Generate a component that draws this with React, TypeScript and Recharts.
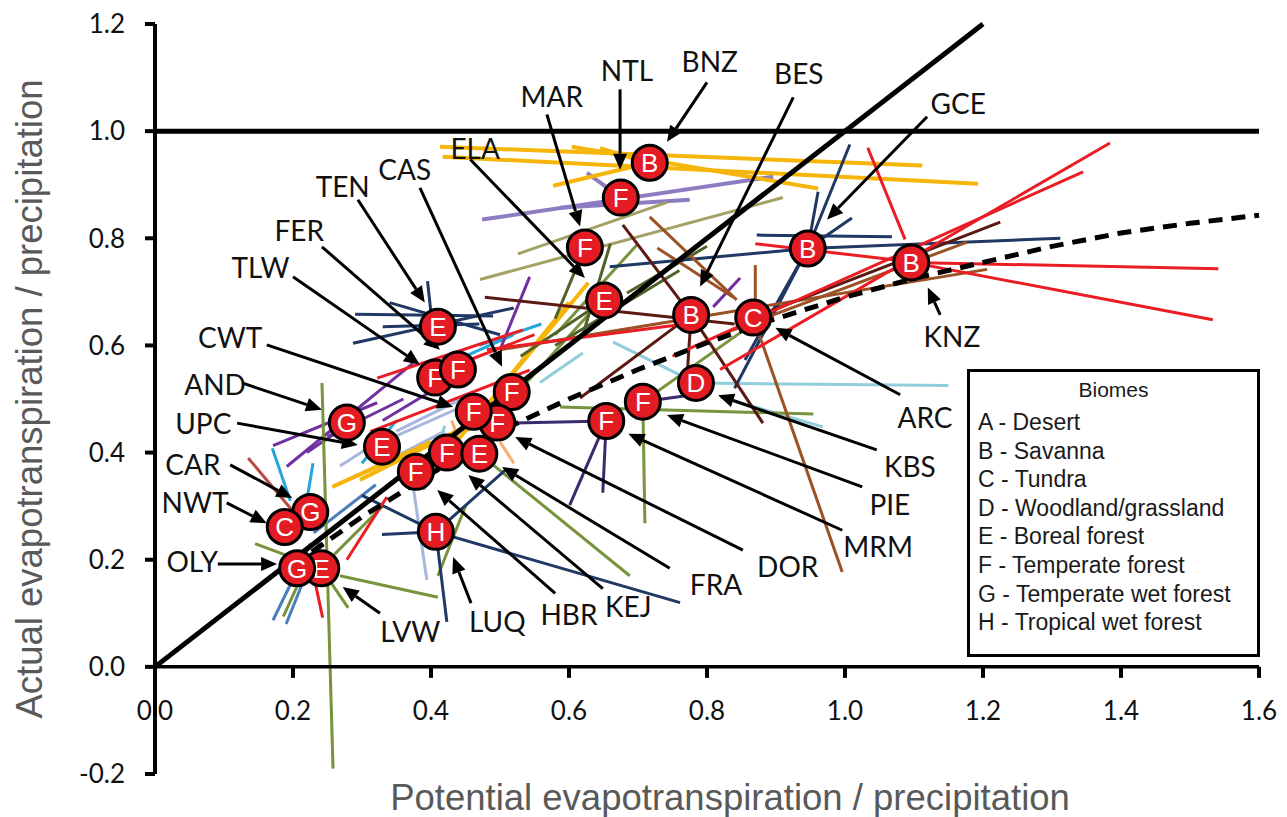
import React from "react";
import { ScatterChart, Scatter, XAxis, YAxis, ReferenceLine } from "recharts";

const W = 1279;
const H = 809;

const xTicks = [0, 0.2, 0.4, 0.6, 0.8, 1.0, 1.2, 1.4, 1.6];
const yTicks = [-0.2, 0, 0.2, 0.4, 0.6, 0.8, 1.0, 1.2];

// site means (biome letter drawn in the red circle); later entries draw on top
const sites = [
  { code: "BNZ", biome: "B", x: 0.717, y: 0.941 },
  { code: "NTL", biome: "F", x: 0.675, y: 0.876 },
  { code: "MAR", biome: "F", x: 0.623, y: 0.783 },
  { code: "ELA", biome: "E", x: 0.651, y: 0.684 },
  { code: "GCE", biome: "B", x: 0.946, y: 0.781 },
  { code: "KNZ", biome: "B", x: 1.096, y: 0.755 },
  { code: "BES", biome: "B", x: 0.777, y: 0.657 },
  { code: "ARC", biome: "C", x: 0.867, y: 0.652 },
  { code: "KBS", biome: "D", x: 0.784, y: 0.53 },
  { code: "PIE", biome: "F", x: 0.707, y: 0.495 },
  { code: "MRM", biome: "F", x: 0.654, y: 0.459 },
  { code: "TEN", biome: "E", x: 0.41, y: 0.635 },
  { code: "TLW", biome: "F", x: 0.406, y: 0.54 },
  { code: "FER", biome: "F", x: 0.439, y: 0.555 },
  { code: "CAS", biome: "F", x: 0.517, y: 0.513 },
  { code: "DOR", biome: "F", x: 0.496, y: 0.456 },
  { code: "CWT", biome: "F", x: 0.462, y: 0.476 },
  { code: "AND", biome: "G", x: 0.278, y: 0.456 },
  { code: "UPC", biome: "E", x: 0.329, y: 0.411 },
  { code: "HBR", biome: "F", x: 0.378, y: 0.364 },
  { code: "KEJ", biome: "F", x: 0.423, y: 0.4 },
  { code: "FRA", biome: "E", x: 0.47, y: 0.398 },
  { code: "LUQ", biome: "H", x: 0.407, y: 0.252 },
  { code: "CAR", biome: "G", x: 0.225, y: 0.289 },
  { code: "NWT", biome: "C", x: 0.188, y: 0.261 },
  { code: "LVW", biome: "E", x: 0.241, y: 0.184 },
  { code: "OLY", biome: "G", x: 0.206, y: 0.184 },
];

// where each site code is written
const siteLabels = [
  { code: "BNZ", x: 0.804, y: 1.13 },
  { code: "NTL", x: 0.684, y: 1.113 },
  { code: "MAR", x: 0.575, y: 1.063 },
  { code: "ELA", x: 0.464, y: 0.966 },
  { code: "BES", x: 0.933, y: 1.106 },
  { code: "GCE", x: 1.164, y: 1.05 },
  { code: "KNZ", x: 1.155, y: 0.616 },
  { code: "CAS", x: 0.362, y: 0.928 },
  { code: "TEN", x: 0.272, y: 0.896 },
  { code: "FER", x: 0.209, y: 0.814 },
  { code: "TLW", x: 0.153, y: 0.745 },
  { code: "CWT", x: 0.109, y: 0.614 },
  { code: "AND", x: 0.087, y: 0.526 },
  { code: "UPC", x: 0.07, y: 0.453 },
  { code: "CAR", x: 0.055, y: 0.377 },
  { code: "NWT", x: 0.058, y: 0.306 },
  { code: "OLY", x: 0.054, y: 0.196 },
  { code: "LVW", x: 0.37, y: 0.065 },
  { code: "LUQ", x: 0.496, y: 0.083 },
  { code: "HBR", x: 0.6, y: 0.097 },
  { code: "KEJ", x: 0.686, y: 0.111 },
  { code: "FRA", x: 0.813, y: 0.153 },
  { code: "DOR", x: 0.917, y: 0.186 },
  { code: "MRM", x: 1.048, y: 0.224 },
  { code: "PIE", x: 1.065, y: 0.302 },
  { code: "KBS", x: 1.094, y: 0.373 },
  { code: "ARC", x: 1.116, y: 0.465 },
];

// label arrows: [x1, y1, x2 (tip), y2 (tip)]
const labelArrows = [
  [0.8, 1.091, 0.742, 0.98],
  [0.674, 1.078, 0.674, 0.928],
  [0.568, 1.031, 0.616, 0.822],
  [0.457, 0.947, 0.623, 0.726],
  [0.925, 1.063, 0.79, 0.71],
  [1.119, 1.027, 0.974, 0.835],
  [1.138, 0.657, 1.12, 0.708],
  [0.384, 0.894, 0.503, 0.56],
  [0.294, 0.872, 0.391, 0.68],
  [0.242, 0.784, 0.413, 0.592],
  [0.2, 0.728, 0.384, 0.564],
  [0.162, 0.601, 0.432, 0.485],
  [0.126, 0.53, 0.242, 0.48],
  [0.119, 0.455, 0.294, 0.414],
  [0.109, 0.377, 0.199, 0.315],
  [0.104, 0.306, 0.162, 0.268],
  [0.091, 0.192, 0.177, 0.192],
  [0.326, 0.1, 0.272, 0.149],
  [0.458, 0.119, 0.432, 0.205],
  [0.58, 0.137, 0.409, 0.33],
  [0.649, 0.146, 0.454, 0.358],
  [0.746, 0.184, 0.503, 0.373],
  [0.852, 0.218, 0.522, 0.429],
  [0.996, 0.255, 0.686, 0.435],
  [1.025, 0.336, 0.742, 0.47],
  [1.046, 0.405, 0.816, 0.507],
  [1.08, 0.508, 0.899, 0.633],
];

// dashed reference curve
const curveX = [0.2, 0.25, 0.3, 0.4, 0.5, 0.6, 0.7, 0.8, 0.9, 1.0, 1.1, 1.2, 1.3, 1.4, 1.5, 1.6];
const curveY = [0.19, 0.235, 0.28, 0.36, 0.44, 0.5, 0.555, 0.605, 0.65, 0.69, 0.725, 0.755, 0.785, 0.81, 0.828, 0.843];

// site trajectories [x1, y1, x2, y2], one list per colour
const steelLines = [
  [0.37, 0.373, 0.394, 0.162],
  [0.268, 0.375, 0.335, 0.43],
  [0.33, 0.42, 0.47, 0.5],
  [0.3, 0.36, 0.42, 0.44],
  [0.35, 0.44, 0.46, 0.51],
];
const lightBlueLines = [
  [0.784, 0.53, 1.15, 0.525],
  [0.819, 0.504, 0.968, 0.448],
  [0.664, 0.606, 0.784, 0.53],
  [0.558, 0.531, 0.62, 0.586],
  [0.39, 0.33, 0.42, 0.45],
];
const skyLines = [
  [0.17, 0.408, 0.196, 0.31],
  [0.229, 0.38, 0.22, 0.31],
  [0.3, 0.38, 0.35, 0.46],
  [0.45, 0.58, 0.52, 0.62],
  [0.47, 0.6, 0.56, 0.64],
];
const peachLines = [
  [0.43, 0.46, 0.45, 0.39],
  [0.5, 0.42, 0.52, 0.38],
  [0.45, 0.44, 0.53, 0.49],
];
const blueLines = [
  [0.171, 0.087, 0.225, 0.23],
  [0.19, 0.08, 0.24, 0.24],
  [0.23, 0.25, 0.32, 0.34],
];
const lavenderLines = [
  [0.474, 0.835, 0.896, 0.915],
  [0.587, 0.857, 0.775, 0.872],
  [0.626, 0.922, 0.675, 0.876],
];
const khakiLines = [
  [0.471, 0.723, 0.91, 0.876],
  [0.526, 0.771, 0.742, 0.867],
];
const goldLines = [
  [0.413, 0.971, 1.112, 0.936],
  [0.417, 0.952, 1.193, 0.902],
  [0.604, 0.971, 0.961, 0.893],
  [0.577, 0.898, 0.717, 0.941],
  [0.645, 0.968, 0.717, 0.94],
  [0.403, 0.368, 0.628, 0.717],
  [0.297, 0.349, 0.46, 0.455],
  [0.257, 0.336, 0.4, 0.42],
  [0.5, 0.52, 0.6, 0.68],
];
const purpleLines = [
  [0.191, 0.374, 0.374, 0.567],
  [0.171, 0.413, 0.322, 0.493],
  [0.543, 0.728, 0.5, 0.592],
  [0.848, 0.726, 0.809, 0.672],
  [0.22, 0.4, 0.3, 0.47],
  [0.25, 0.43, 0.36, 0.5],
  [0.33, 0.46, 0.42, 0.53],
];
const darkPurpleLines = [
  [0.654, 0.459, 0.601, 0.302],
  [0.654, 0.459, 0.649, 0.325],
  [0.52, 0.455, 0.654, 0.459],
  [0.707, 0.495, 0.79, 0.51],
];
const greenLines = [
  [0.242, 0.53, 0.258, -0.19],
  [0.707, 0.495, 0.71, 0.268],
  [0.707, 0.495, 0.855, 0.63],
  [0.587, 0.485, 0.954, 0.472],
  [0.47, 0.398, 0.688, 0.17],
  [0.268, 0.17, 0.41, 0.13],
  [0.145, 0.23, 0.241, 0.184],
  [0.241, 0.184, 0.28, 0.11],
  [0.51, 0.49, 0.63, 0.66],
  [0.26, 0.21, 0.33, 0.3],
  [0.41, 0.17, 0.45, 0.3],
  [0.186, 0.094, 0.21, 0.162],
  [0.58, 0.62, 0.7, 0.79],
];
const darkGreenLines = [
  [0.684, 0.698, 0.8, 0.785],
  [0.53, 0.58, 0.651, 0.684],
  [0.66, 0.79, 0.62, 0.62],
  [0.58, 0.6, 0.76, 0.74],
  [0.623, 0.783, 0.58, 0.65],
];
const navyLines = [
  [0.946, 0.781, 1.007, 0.975],
  [0.946, 0.781, 0.961, 0.887],
  [0.946, 0.781, 1.01, 0.838],
  [0.872, 0.806, 1.068, 0.803],
  [0.946, 0.781, 1.312, 0.8],
  [0.659, 0.747, 0.946, 0.781],
  [0.946, 0.781, 0.855, 0.573],
  [0.946, 0.781, 0.84, 0.52],
  [0.29, 0.658, 0.49, 0.655],
  [0.287, 0.604, 0.52, 0.67],
  [0.395, 0.72, 0.405, 0.6],
  [0.34, 0.68, 0.5, 0.62],
  [0.33, 0.635, 0.47, 0.64],
  [0.407, 0.252, 0.761, 0.12],
  [0.407, 0.252, 0.423, 0.084],
  [0.329, 0.247, 0.407, 0.252],
  [0.3, 0.32, 0.407, 0.252],
  [0.407, 0.252, 0.51, 0.37],
];
const brownLines = [
  [0.867, 0.652, 0.996, 0.177],
  [0.5, 0.592, 1.206, 0.742],
  [0.82, 0.62, 1.177, 0.793],
  [0.717, 0.84, 0.843, 0.685],
  [0.728, 0.782, 0.838, 0.69],
  [0.87, 0.75, 0.87, 0.68],
];
const maroonLines = [
  [0.678, 0.825, 0.777, 0.657],
  [0.777, 0.657, 0.881, 0.455],
  [0.777, 0.657, 0.616, 0.502],
  [0.478, 0.69, 0.84, 0.64],
  [0.867, 0.652, 1.225, 0.83],
  [0.777, 0.657, 0.77, 0.52],
];
const redLines = [
  [0.819, 0.555, 1.384, 0.978],
  [0.75, 0.58, 1.345, 0.924],
  [1.096, 0.755, 1.541, 0.743],
  [1.096, 0.755, 1.533, 0.648],
  [1.033, 0.969, 1.087, 0.798],
  [0.87, 0.79, 1.07, 0.76],
  [0.481, 0.592, 0.757, 0.638],
  [0.312, 0.439, 0.543, 0.554],
  [0.322, 0.539, 0.533, 0.629],
  [0.45, 0.57, 0.55, 0.62],
  [0.225, 0.2, 0.243, 0.092],
  [0.278, 0.2, 0.336, 0.317],
];
const roseLines = [[0.135, 0.39, 0.21, 0.275]];

const trajectoryGroups = [
  { color: "#a7b6dc", width: 3, lines: steelLines },
  { color: "#92cddc", width: 3, lines: lightBlueLines },
  { color: "#23a6dd", width: 3, lines: skyLines },
  { color: "#f7ad6f", width: 3, lines: peachLines },
  { color: "#4a7ebb", width: 3, lines: blueLines },
  { color: "#8e7cc3", width: 4, lines: lavenderLines },
  { color: "#a3a163", width: 3, lines: khakiLines },
  { color: "#f5b50a", width: 4, lines: goldLines },
  { color: "#7030a0", width: 3, lines: purpleLines },
  { color: "#3b2a6e", width: 3, lines: darkPurpleLines },
  { color: "#77933c", width: 3, lines: greenLines },
  { color: "#4f6228", width: 3, lines: darkGreenLines },
  { color: "#1f3864", width: 3, lines: navyLines },
  { color: "#9b5226", width: 3, lines: brownLines },
  { color: "#5b1a11", width: 3, lines: maroonLines },
  { color: "#ea1c24", width: 3, lines: redLines },
  { color: "#b84a46", width: 3, lines: roseLines },
];

const biomes = [
  "A - Desert",
  "B - Savanna",
  "C - Tundra",
  "D - Woodland/grassland",
  "E - Boreal forest",
  "F - Temperate forest",
  "G - Temperate wet forest",
  "H - Tropical wet forest",
];

const ARIAL = "'Liberation Sans', Arial, sans-serif";
const LABEL_FONT = "Lato, 'Open Sans', sans-serif";

function ArrowLine(p: any) {
  const { x1, y1, x2, y2 } = p;
  const a = Math.atan2(y2 - y1, x2 - x1);
  const len = 16;
  const half = 7;
  const bx = x2 - len * Math.cos(a);
  const by = y2 - len * Math.sin(a);
  const nx = -Math.sin(a) * half;
  const ny = Math.cos(a) * half;
  return (
    <g>
      <line x1={x1} y1={y1} x2={bx} y2={by} stroke="#000" strokeWidth={3} />
      <polygon points={`${x2},${y2} ${bx + nx},${by + ny} ${bx - nx},${by - ny}`} fill="#000" />
    </g>
  );
}

function SiteMarker(p: any) {
  return (
    <g>
      <circle cx={p.cx} cy={p.cy} r={17.5} fill="#e31b23" stroke="#000" strokeWidth={3} />
      <text x={p.cx} y={p.cy} dy="0.36em" textAnchor="middle" fontSize={26} fontFamily={ARIAL} fill="#fff">
        {p.payload.biome}
      </text>
    </g>
  );
}

function SiteLabel(p: any) {
  return (
    <text x={p.cx} y={p.cy} dy="0.36em" textAnchor="middle" fontSize={28} fontFamily={LABEL_FONT} fill="#111">
      {p.payload.code}
    </text>
  );
}

function XTick(p: any) {
  return (
    <g>
      <line x1={p.cx} y1={p.cy} x2={p.cx} y2={p.cy + 11} stroke="#000" strokeWidth={4} />
      <text x={p.cx} y={p.cy + 44} dy="0.36em" textAnchor="middle" fontSize={26} fontFamily={LABEL_FONT} fill="#111">
        {p.payload.x.toFixed(1)}
      </text>
    </g>
  );
}

function XTitle(p: any) {
  const vb = p.viewBox || { x: 147, y: 766, width: 1104, height: 43 };
  return (
    <text x={vb.x + vb.width / 2 + 23} y={vb.y + 23} dy="0.36em" textAnchor="middle" fontSize={36.5} fontFamily={ARIAL} fill="#595959">
      Potential evapotranspiration / precipitation
    </text>
  );
}

function YTitle(p: any) {
  const vb = p.viewBox || { x: 0, y: 16, width: 147, height: 750 };
  const cx = vb.x + 21;
  const cy = vb.y + vb.height / 2;
  return (
    <text x={cx} y={cy} dy="0.36em" transform={`rotate(-90 ${cx} ${cy})`} textAnchor="middle" fontSize={36.5} fontFamily={ARIAL} fill="#595959">
      Actual evapotranspiration / precipitation
    </text>
  );
}

const noDot = () => <g />;

export default function App() {
  const curve = curveX.map((x, i) => ({ x, y: curveY[i] }));
  const tickPoints = xTicks.map((x) => ({ x, y: 0 }));

  return (
    <div style={{ position: "relative", width: W, height: H }}>
      <ScatterChart width={W} height={H} margin={{ top: 16, right: 28, bottom: 0, left: 0 }}>
        <XAxis
          type="number"
          dataKey="x"
          domain={[0, 1.6]}
          ticks={xTicks}
          tick={false}
          axisLine={false}
          tickLine={false}
          height={43}
          label={{ content: XTitle }}
        />
        <YAxis
          type="number"
          dataKey="y"
          domain={[-0.2, 1.2]}
          ticks={yTicks}
          width={147}
          tickFormatter={(v: number) => v.toFixed(1)}
          tick={{ fontSize: 26, fill: "#111", fontFamily: LABEL_FONT }}
          tickSize={10}
          tickMargin={20}
          axisLine={{ stroke: "#000", strokeWidth: 4 }}
          tickLine={{ stroke: "#000", strokeWidth: 4 }}
          label={{ content: YTitle }}
        />

        {trajectoryGroups.map((g, gi) =>
          g.lines.map((s, i) => (
            <ReferenceLine
              key={`t${gi}-${i}`}
              segment={[
                { x: s[0], y: s[1] },
                { x: s[2], y: s[3] },
              ]}
              stroke={g.color}
              strokeWidth={g.width}
              ifOverflow="visible"
            />
          ))
        )}

        <ReferenceLine y={0} stroke="#000" strokeWidth={3.5} />
        <ReferenceLine y={1} stroke="#000" strokeWidth={5} />
        <ReferenceLine
          segment={[
            { x: 0, y: 0 },
            { x: 1.2, y: 1.2 },
          ]}
          stroke="#000"
          strokeWidth={5}
          ifOverflow="visible"
        />

        {labelArrows.map((a, i) => (
          <ReferenceLine
            key={`a${i}`}
            segment={[
              { x: a[0], y: a[1] },
              { x: a[2], y: a[3] },
            ]}
            ifOverflow="visible"
            shape={ArrowLine}
          />
        ))}

        <Scatter
          data={curve}
          line={{ stroke: "#000", strokeWidth: 5, strokeDasharray: "14 9" }}
          shape={noDot}
          isAnimationActive={false}
        />
        <Scatter data={tickPoints} shape={XTick} isAnimationActive={false} />
        <Scatter data={sites} shape={SiteMarker} isAnimationActive={false} />
        <Scatter data={siteLabels} shape={SiteLabel} isAnimationActive={false} />
      </ScatterChart>

      <div
        style={{
          position: "absolute",
          left: 959,
          top: 361,
          width: 293,
          height: 288,
          border: "3px solid #000",
          boxSizing: "border-box",
          background: "#fff",
          fontFamily: ARIAL,
          color: "#1a1a1a",
          paddingLeft: 8,
        }}
      >
        <div style={{ marginTop: 0, lineHeight: "36px", fontSize: 21, textAlign: "center", marginLeft: -8 }}>Biomes</div>
        {biomes.map((b) => (
          <div key={b} style={{ fontSize: 23, lineHeight: "28.6px", whiteSpace: "nowrap" }}>
            {b}
          </div>
        ))}
      </div>
    </div>
  );
}
